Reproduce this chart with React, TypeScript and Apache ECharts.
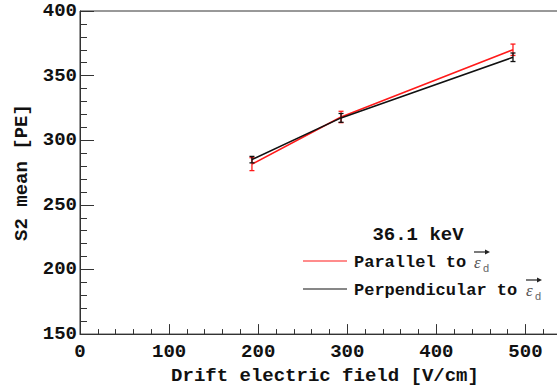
import React, { useEffect, useRef } from "react";
import * as echarts from "echarts";

// Drift field settings [V/cm]
const driftField = [193, 293, 486];
// S2 mean [PE] with parallel orientation
const parallelMean = [281.5, 318, 370];
const parallelErr = [5, 4.4, 4.4];
// S2 mean [PE] with perpendicular orientation
const perpMean = [285, 317.3, 364.2];
const perpErr = [2.5, 3.4, 3.3];

const yTicks = [150, 200, 250, 300, 350, 400];
const xTicks = [0, 100, 200, 300, 400, 500];

const RED = "#ff1a1a";
const BLACK = "#111111";
const MONO = "'Liberation Mono', 'DejaVu Sans Mono', monospace";

function errorBars(color: string) {
  return (params: any, api: any) => {
    const x = api.value(0);
    const y = api.value(1);
    const e = api.value(2);
    const top = api.coord([x, y + e]);
    const bot = api.coord([x, y - e]);
    const cap = 2.5;
    const style = { stroke: color, lineWidth: 1.3 };
    return {
      type: "group",
      children: [
        { type: "line", shape: { x1: top[0], y1: top[1], x2: bot[0], y2: bot[1] }, style },
        { type: "line", shape: { x1: top[0] - cap, y1: top[1], x2: top[0] + cap, y2: top[1] }, style },
        { type: "line", shape: { x1: bot[0] - cap, y1: bot[1], x2: bot[0] + cap, y2: bot[1] }, style },
      ],
    };
  };
}

function epsilonSymbol(x: number, y: number) {
  // italic epsilon with a vector arrow above and a subscript d
  return [
    {
      type: "text",
      x,
      y,
      style: {
        text: "ε",
        font: "italic 17px 'Liberation Serif', 'DejaVu Serif', serif",
        fill: "#555",
        textVerticalAlign: "middle",
      },
    },
    {
      type: "text",
      x: x + 9,
      y: y + 6,
      style: {
        text: "d",
        font: "11px 'Liberation Sans', 'DejaVu Sans', sans-serif",
        fill: "#666",
        textVerticalAlign: "middle",
      },
    },
    {
      type: "line",
      shape: { x1: x, y1: y - 10, x2: x + 13, y2: y - 10 },
      style: { stroke: "#222", lineWidth: 1.2 },
    },
    {
      type: "polygon",
      shape: { points: [[x + 16, y - 10], [x + 11, y - 12.5], [x + 11, y - 7.5]] },
      style: { fill: "#222" },
    },
  ];
}

export default function App() {
  const ref = useRef<HTMLDivElement>(null);

  useEffect(() => {
    if (!ref.current) return;
    const chart = echarts.init(ref.current, undefined, { renderer: "svg" });

    const parallelData = driftField.map((f, i) => [f, parallelMean[i], parallelErr[i]]);
    const perpData = driftField.map((f, i) => [f, perpMean[i], perpErr[i]]);

    chart.setOption({
      animation: false,
      backgroundColor: "#fff",
      grid: {
        left: 80,
        right: 30,
        top: 11,
        bottom: 46,
        show: true,
        borderColor: "#333",
        borderWidth: 1,
      },
      xAxis: {
        type: "value",
        min: 0,
        max: 550,
        interval: 100,
        name: "Drift electric field [V/cm]",
        nameLocation: "middle",
        nameGap: 27,
        nameTextStyle: { fontFamily: MONO, fontWeight: "bold", fontSize: 19, color: "#111" },
        axisLine: { show: true, lineStyle: { color: "#333", width: 1 } },
        axisTick: { show: true, inside: true, length: 10, lineStyle: { color: "#333" } },
        minorTick: { show: true, splitNumber: 5, length: 5, lineStyle: { color: "#333" } },
        splitLine: { show: false },
        axisLabel: {
          fontFamily: MONO,
          fontWeight: "bold",
          fontSize: 19,
          color: "#111",
          margin: 8,
          formatter: (v: number) => (xTicks.includes(v) ? String(v) : ""),
        },
      },
      yAxis: {
        type: "value",
        min: 150,
        max: 400,
        interval: 50,
        name: "S2 mean [PE]",
        nameLocation: "middle",
        nameGap: 43,
        nameTextStyle: { fontFamily: MONO, fontWeight: "bold", fontSize: 19, color: "#111" },
        axisLine: { show: true, lineStyle: { color: "#333", width: 1 } },
        axisTick: { show: true, inside: true, length: 14, lineStyle: { color: "#333" } },
        minorTick: { show: true, splitNumber: 5, length: 7, lineStyle: { color: "#333" } },
        splitLine: { show: false },
        axisLabel: {
          fontFamily: MONO,
          fontWeight: "bold",
          fontSize: 19,
          color: "#111",
          margin: 3,
          formatter: (v: number) => (yTicks.includes(v) ? String(v) : ""),
        },
      },
      series: [
        {
          name: "Parallel",
          type: "line",
          data: parallelData.map((d) => [d[0], d[1]]),
          symbol: "none",
          lineStyle: { color: RED, width: 1.6 },
          z: 2,
        },
        {
          name: "Parallel errors",
          type: "custom",
          data: parallelData,
          renderItem: errorBars(RED),
          z: 3,
        },
        {
          name: "Perpendicular",
          type: "line",
          data: perpData.map((d) => [d[0], d[1]]),
          symbol: "none",
          lineStyle: { color: BLACK, width: 1.6 },
          z: 4,
        },
        {
          name: "Perpendicular errors",
          type: "custom",
          data: perpData,
          renderItem: errorBars(BLACK),
          z: 5,
        },
      ],
      graphic: [
        {
          type: "text",
          x: 418,
          y: 235,
          style: {
            text: "36.1 keV",
            font: `bold 19px ${MONO}`,
            fill: "#111",
            textAlign: "center",
            textVerticalAlign: "middle",
          },
        },
        {
          type: "line",
          shape: { x1: 303, y1: 261, x2: 347, y2: 261 },
          style: { stroke: RED, lineWidth: 1.2 },
        },
        {
          type: "text",
          x: 354,
          y: 262,
          style: {
            text: "Parallel to",
            font: `bold 17px ${MONO}`,
            fill: "#111",
            textVerticalAlign: "middle",
          },
        },
        ...epsilonSymbol(474, 262),
        {
          type: "line",
          shape: { x1: 303, y1: 289, x2: 347, y2: 289 },
          style: { stroke: BLACK, lineWidth: 1.2 },
        },
        {
          type: "text",
          x: 354,
          y: 290,
          style: {
            text: "Perpendicular to",
            font: `bold 17px ${MONO}`,
            fill: "#111",
            textVerticalAlign: "middle",
          },
        },
        ...epsilonSymbol(526, 290),
      ],
    });

    return () => chart.dispose();
  }, []);

  return (
    <div
      style={{
        position: "fixed",
        left: 0,
        top: 0,
        width: 557,
        height: 390,
        overflow: "hidden",
        background: "#fff",
      }}
    >
      <div ref={ref} style={{ width: 600, height: 390 }} />
    </div>
  );
}
